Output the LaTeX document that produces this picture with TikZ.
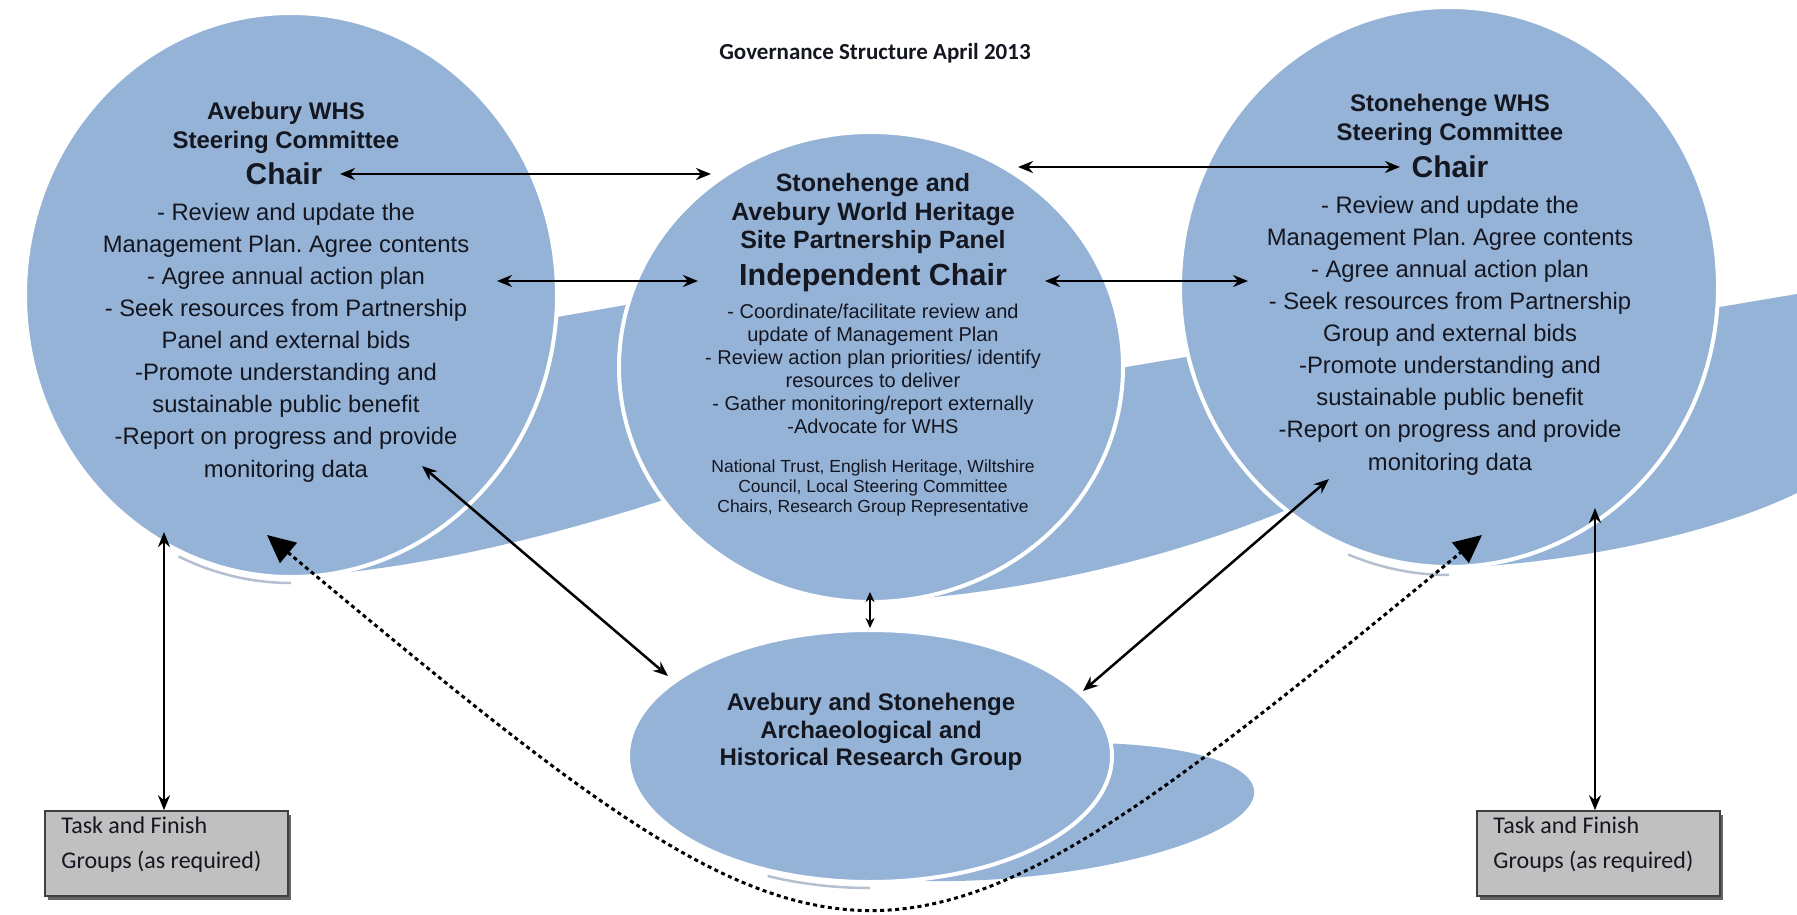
\documentclass[tikz,border=0pt]{standalone}
\usepackage{fontspec}
\setmainfont{Liberation Sans}
\newfontfamily\calibri{Carlito}
\usepackage{tikz}
\usetikzlibrary{positioning, arrows.meta, shapes.geometric, shadows}
\frenchspacing
\definecolor{whsblue}{RGB}{149,179,215}
\definecolor{rimshade}{RGB}{118,138,168}
\definecolor{boxgrey}{RGB}{192,192,192}
\definecolor{ink}{RGB}{20,22,32}
\tikzstyle{whs} = [ellipse, fill=whsblue, draw=white, line width=4pt, inner sep=0pt]
\tikzstyle{wing} = [fill=whsblue]
\tikzstyle{shade} = [draw=rimshade, line width=2.5pt, opacity=0.55]
\tikzstyle{headtxt} = [align=center, inner sep=0pt, text=ink, font=\fontsize{24}{29.5}\selectfont\bfseries]
\tikzstyle{chairtxt} = [inner sep=0pt, text=ink, font=\fontsize{30}{34}\selectfont\bfseries]
\tikzstyle{duty} = [align=center, inner sep=0pt, text=ink, font=\fontsize{23.8}{32.1}\selectfont]
\tikzstyle{panelduty} = [align=center, inner sep=0pt, text=ink, font=\fontsize{20}{23}\selectfont]
\tikzstyle{member} = [align=center, inner sep=0pt, text=ink, font=\fontsize{17.5}{20}\selectfont]
\tikzstyle{titletxt} = [inner sep=0pt, text=ink, font=\calibri\bfseries\fontsize{23}{27}\selectfont]
\tikzstyle{taskbox} = [rectangle, draw=black!75, line width=1.5pt, fill=boxgrey, minimum width=243pt, minimum height=85pt, drop shadow={shadow xshift=3pt, shadow yshift=-4pt, fill=black!60, opacity=1}]
\tikzstyle{tasktext} = [align=left, inner sep=0pt, text=ink, font=\calibri\fontsize{24}{35}\selectfont]
\tikzstyle{link} = [draw, line width=2.5pt, {Stealth[length=15pt,width=12pt]}-{Stealth[length=15pt,width=12pt]}]
\tikzstyle{shortlink} = [draw, line width=2pt, {Stealth[length=10pt,width=9pt]}-{Stealth[length=10pt,width=9pt]}]
\tikzstyle{feedback} = [draw, line width=3pt, dash pattern=on 4pt off 3.5pt, {Triangle[length=28pt,width=26pt]}-{Triangle[length=28pt,width=26pt]}]

\begin{document}
\begin{tikzpicture}[x=1pt, y=-1pt]
        \useasboundingbox (0,0) rectangle (1797,915);
        % Wings behind the circles
        \fill[wing] (291,577) .. controls (420,570) and (560,535) .. (700,488) -- (660,299) -- (300,362) -- cycle;
        \fill[wing] (871,601) .. controls (980,598) and (1150,570) .. (1310,500) -- (1240,348) -- (1090,373) -- cycle;
        \fill[wing] (1449,568) .. controls (1550,565) and (1700,540) .. (1797,493) -- (1797,294) -- (1690,312) -- cycle;
        \fill[wing, rotate around={5:(1010,812)}] (1010,812) ellipse [x radius=245pt, y radius=66pt];
        % Rim shading under the circles
        \draw[shade] (291,583) arc [start angle=270, end angle=245, x radius=266pt, y radius=284pt];
        \draw[shade] (1449,575) arc [start angle=270, end angle=248, x radius=269pt, y radius=282pt];
        \draw[shade] (870,888) arc [start angle=270, end angle=245, x radius=242pt, y radius=128pt];
        % Circles
        \node[whs, minimum width=532pt, minimum height=564pt] (avebury) at (291,295) {};
        \node[whs, minimum width=504pt, minimum height=470pt] (panel) at (871,367) {};
        \node[whs, minimum width=538pt, minimum height=560pt] (stonehenge) at (1449,287) {};
        \node[whs, minimum width=484pt, minimum height=252pt] (research) at (870,756) {};
        % Title
        \node[titletxt] (govTitle) at (875,53) {Governance Structure April 2013};
        % Avebury committee
        \node[headtxt] (aveHead) at (286,128) {Avebury WHS\\Steering Committee};
        \node[chairtxt] (aveChair) at (284,174) {Chair};
        \node[duty] (aveDuty) at (286,342.5) {- Review and update the\\Management Plan. Agree contents\\- Agree annual action plan\\- Seek resources from Partnership\\Panel and external bids\\-Promote understanding and\\sustainable public benefit\\-Report on progress and provide\\monitoring data};
        % Partnership panel
        \node[headtxt, font=\fontsize{25}{28.5}\selectfont\bfseries] (panelHead) at (873,214) {Stonehenge and\\Avebury World Heritage\\Site Partnership Panel};
        \node[chairtxt, font=\fontsize{30.5}{34}\selectfont\bfseries] (panelChair) at (873,278) {Independent Chair};
        \node[panelduty] (panelDuty) at (873,368.5) {- Coordinate/facilitate review and\\update of Management Plan\\- Review action plan priorities/ identify\\resources to deliver\\- Gather monitoring/report externally\\-Advocate for WHS};
        \node[member] (panelMember) at (873,487.5) {National Trust, English Heritage, Wiltshire\\Council, Local Steering Committee\\Chairs, Research Group Representative};
        % Stonehenge committee
        \node[headtxt] (stoHead) at (1450,120) {Stonehenge WHS\\Steering Committee};
        \node[chairtxt] (stoChair) at (1450,167) {Chair};
        \node[duty] (stoDuty) at (1450,335.5) {- Review and update the\\Management Plan. Agree contents\\- Agree annual action plan\\- Seek resources from Partnership\\Group and external bids\\-Promote understanding and\\sustainable public benefit\\-Report on progress and provide\\monitoring data};
        % Research group
        \node[headtxt, font=\fontsize{24}{27.5}\selectfont\bfseries] (researchText) at (871,732) {Avebury and Stonehenge\\Archaeological and\\Historical Research Group};
        % Task and finish groups
        \node[taskbox] (taskL) at (166.5,853.5) {};
        \node[tasktext, anchor=west] (taskLText) at ([xshift=17pt,yshift=9pt]taskL.west) {Task and Finish\\Groups (as required)};
        \node[taskbox] (taskR) at (1598.5,853.5) {};
        \node[tasktext, anchor=west] (taskRText) at ([xshift=17pt,yshift=9pt]taskR.west) {Task and Finish\\Groups (as required)};
        % Connector ends
        \coordinate (aveChairR) at (340,174);
        \coordinate (panelTopL) at (711,174);
        \coordinate (panelTopR) at (1018,167);
        \coordinate (stoChairL) at (1400,167);
        \coordinate (aveMidR) at (497,281);
        \coordinate (panelMidL) at (698,281);
        \coordinate (panelMidR) at (1045,281);
        \coordinate (stoMidL) at (1248,281);
        \coordinate (aveLow) at (422,466);
        \coordinate (researchNW) at (668,676);
        \coordinate (stoLow) at (1329,479);
        \coordinate (researchNE) at (1083,691);
        \coordinate (panelBase) at (870,592);
        \coordinate (aveFoot) at (164,532);
        \coordinate (stoFoot) at (1595,508);
        \coordinate (aveTip) at (267,535);
        \coordinate (stoTip) at (1482,535);
        % Edges
        \path [link] (aveChairR) -- (panelTopL);
        \path [link] (panelTopR) -- (stoChairL);
        \path [link] (aveMidR) -- (panelMidL);
        \path [link] (panelMidR) -- (stoMidL);
        \path [link] (aveLow) -- (researchNW);
        \path [link] (stoLow) -- (researchNE);
        \path [shortlink] (panelBase) -- (research.north);
        \path [link] (aveFoot) -- (aveFoot |- taskL.north);
        \path [link] (stoFoot) -- (stoFoot |- taskR.north);
        \path [feedback] (aveTip) .. controls (860,1030) and (880,1030) .. (stoTip);
\end{tikzpicture}
\end{document}
